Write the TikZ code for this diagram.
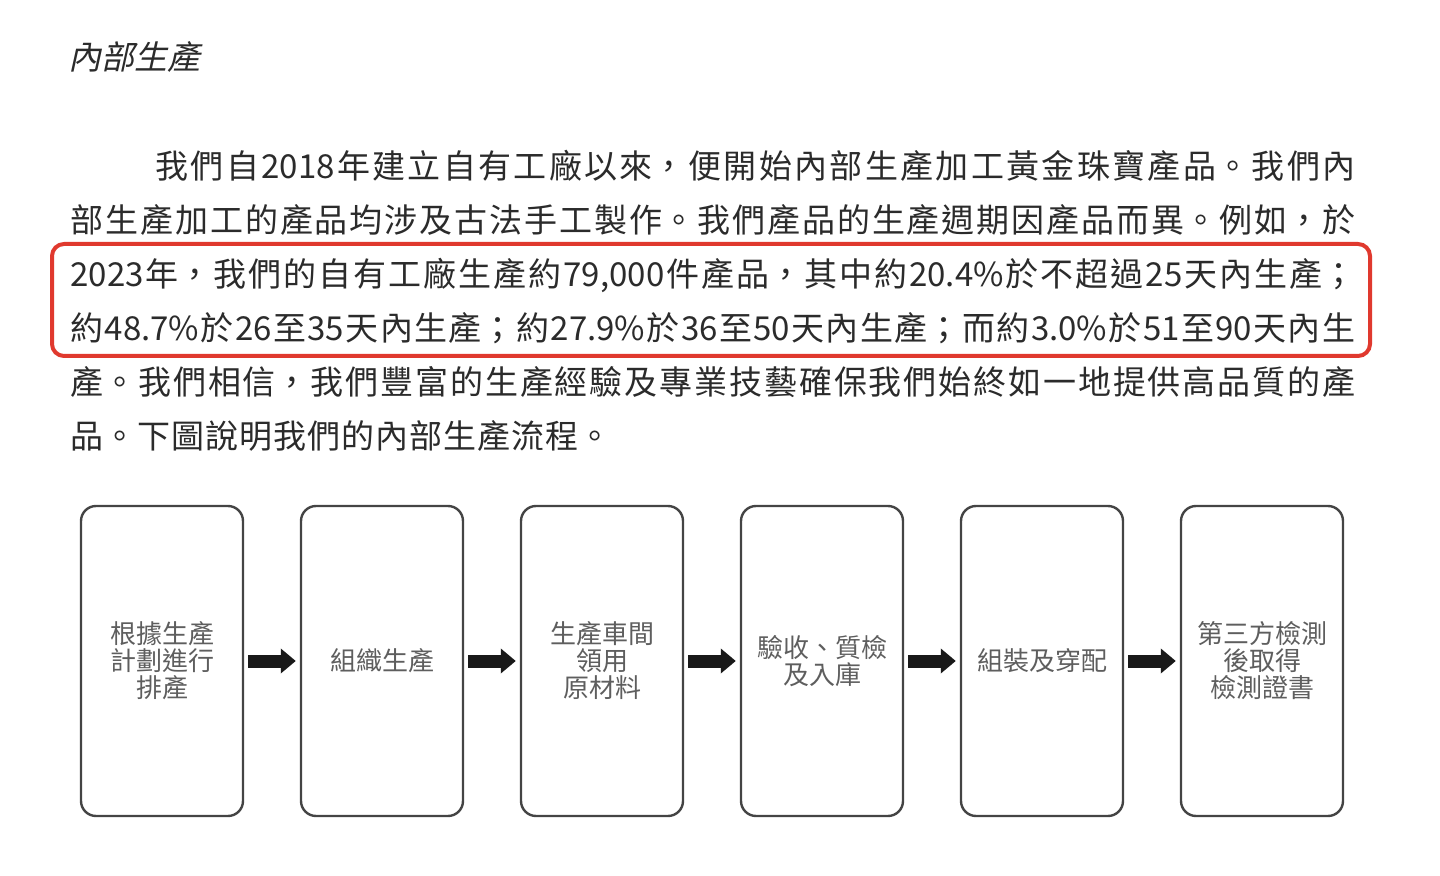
\documentclass[tikz,border=0pt]{standalone}
\usepackage{fontspec}
\setmainfont{Noto Sans CJK TC}
\newfontfamily\titlefont[FakeSlant=0.22]{Noto Sans CJK TC}
\usetikzlibrary{positioning,arrows.meta}
\XeTeXlinebreaklocale "zh"
\XeTeXlinebreakskip=0pt plus 20pt
\definecolor{hired}{HTML}{E0392E}
\definecolor{ink}{HTML}{2B2B2B}
\definecolor{boxgray}{HTML}{444444}
\definecolor{labgray}{HTML}{5E5E5E}
\tikzset{
  para/.style={inner sep=0pt, anchor=base west, text=ink, align=justify,
    font=\fontsize{16.5pt}{27pt}\selectfont},
  stepbox/.style={draw=boxgray, line width=1.2pt, rounded corners=7.5pt,
    minimum width=81pt, minimum height=155pt, align=center, text=labgray,
    font=\fontsize{13pt}{13.5pt}\selectfont},
  flow/.style={draw=black!90, line width=6.5pt,
    -{Triangle[length=7.5pt,width=12pt]}, shorten <=2pt, shorten >=2pt},
}
\newcommand\fullline[1]{{\XeTeXlinebreaklocale "zh"\XeTeXlinebreakskip=0pt plus 20pt\parfillskip=0pt\relax #1\par}}
\newcommand\lastline[1]{{\XeTeXlinebreaklocale "zh"\XeTeXlinebreakskip=0.5pt\relax #1\par}}
\begin{document}
\begin{tikzpicture}[x=0.5pt,y=-0.5pt]
\useasboundingbox (0,0) rectangle (1440,876);
% heading
\node[inner sep=0pt, anchor=base west, text=ink,
  font=\titlefont\fontsize{16.5pt}{20pt}\selectfont] (title) at (68,70) {內部生產};
% paragraph, one node per line
\node[para, text width=600pt] (l1) at (155,179) {\fullline{我們自2018年建立自有工廠以來，便開始內部生產加工黃金珠寶產品。我們內}};
\node[para, text width=642.5pt] (l2) at (70,233) {\fullline{部生產加工的產品均涉及古法手工製作。我們產品的生產週期因產品而異。例如，於}};
\node[para, text width=642.5pt] (l3) at (70,287) {\fullline{2023年，我們的自有工廠生產約79,000件產品，其中約20.4\%於不超過25天內生產；}};
\node[para, text width=642.5pt] (l4) at (70,341) {\fullline{約48.7\%於26至35天內生產；約27.9\%於36至50天內生產；而約3.0\%於51至90天內生}};
\node[para, text width=642.5pt] (l5) at (70,395) {\fullline{產。我們相信，我們豐富的生產經驗及專業技藝確保我們始終如一地提供高品質的產}};
\node[para, text width=642.5pt] (l6) at (70,449) {\lastline{品。下圖說明我們的內部生產流程。}};
% highlight
\draw[hired, line width=2pt, rounded corners=6pt] (52,244) rectangle (1370,356);
% process
\node[stepbox] (b1) at (162,661) {根據生產\\計劃進行\\排產};
\node[stepbox, right=27.8pt of b1] (b2) {組織生產};
\node[stepbox, right=27.8pt of b2] (b3) {生產車間\\領用\\原材料};
\node[stepbox, right=27.8pt of b3] (b4) {驗收、質檢\\及入庫};
\node[stepbox, right=27.8pt of b4] (b5) {組裝及穿配};
\node[stepbox, right=27.8pt of b5] (b6) {第三方檢測\\後取得\\檢測證書};
\foreach \a/\b in {b1/b2,b2/b3,b3/b4,b4/b5,b5/b6}
  \draw[flow] (\a) -- (\b);
\end{tikzpicture}
\end{document}
